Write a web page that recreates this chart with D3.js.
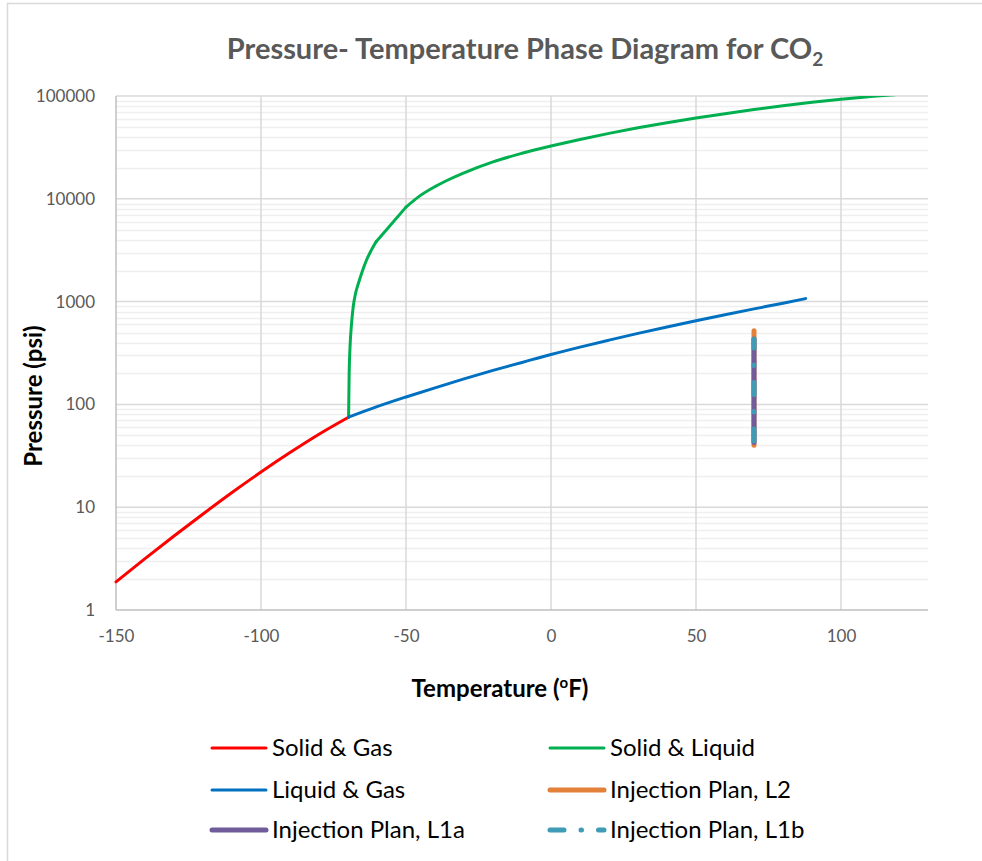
<!DOCTYPE html>
<html>
<head>
<meta charset="utf-8">
<script src="https://cdn.jsdelivr.net/npm/d3@7"></script>
<style>
  html, body { margin: 0; padding: 0; background: #ffffff; }
  svg { display: block; font-family: Lato, "Open Sans", sans-serif; }
</style>
</head>
<body>
<svg id="chart" width="982" height="861"></svg>
<script>
// Phase boundaries of CO2 (temperature in °F, pressure in psi)
const solidGasT = [-150, -140, -130, -120, -110, -100, -90, -80, -69.8];
const solidGasP = [1.88, 3.16, 5.24, 8.59, 13.9, 22.0, 34.0, 51.3, 75.1];

const solidLiquidT = [-69.8, -69.6, -69.3, -68.8, -68.2, -67.4, -66.4, -65.0, -63.6, -62.0, -60.3,
                      -50, -45, -40, -35, -30, -20, -10, 0, 10, 20, 30, 40, 50, 60, 70, 80, 90, 100, 110, 120];
const solidLiquidP = [75.1, 200, 363, 600, 891, 1200, 1507, 2000, 2540, 3150, 3830,
                      8300, 10800, 13150, 15500, 17900, 22900, 27700, 32600, 37800, 43300, 49000,
                      55000, 61000, 67300, 73800, 80500, 87100, 93100, 98600, 104000];
// indices where the melting curve changes character (straight run between them)
const solidLiquidBreaks = [10, 11];

const liquidGasT = [-69.8, -60, -50, -40, -30, -20, -10, 0, 10, 20, 30, 40, 50, 60, 70, 80, 87.8];
const liquidGasP = [75.1, 95, 118, 145, 177, 214, 256, 306, 361, 422, 491, 567, 652, 746, 850, 964, 1070];

// Injection plans, all at 70 °F
const injL2T = [70, 70];
const injL2P = [40, 520];
const injL1aT = [70, 70];
const injL1aP = [42.5, 432];
const injL1bT = [70, 70];
const injL1bP = [44, 432];

// Axis ticks
const xTicks = [-150, -100, -50, 0, 50, 100];
const yTicks = [1, 10, 100, 1000, 10000, 100000];

const svg = d3.select("#chart");

// Outer chart frame
svg.append("rect")
  .attr("x", 7.5).attr("y", 3.5)
  .attr("width", 1000).attr("height", 900)
  .attr("fill", "#fff").attr("stroke", "#d9d9d9").attr("stroke-width", 1.5);

const plot = { left: 116, right: 928, top: 96, bottom: 610 };

const x = d3.scaleLinear().domain([-150, 130]).range([plot.left, plot.right]);
const y = d3.scaleLog().domain([1, 100000]).range([plot.bottom, plot.top]);

// Minor horizontal gridlines (2..9 within each decade)
const minorVals = [];
for (let k = 0; k < 5; k++) for (let m = 2; m <= 9; m++) minorVals.push(m * Math.pow(10, k));

svg.append("g").selectAll("line").data(minorVals).join("line")
  .attr("x1", plot.left).attr("x2", plot.right)
  .attr("y1", d => Math.round(y(d)) + 0.5).attr("y2", d => Math.round(y(d)) + 0.5)
  .attr("stroke", "#efefef").attr("stroke-width", 1.5);

// Major gridlines
svg.append("g").selectAll("line").data(yTicks.slice(1)).join("line")
  .attr("x1", plot.left).attr("x2", plot.right)
  .attr("y1", d => y(d)).attr("y2", d => y(d))
  .attr("stroke", "#d9d9d9").attr("stroke-width", 1.5);

svg.append("g").selectAll("line").data(xTicks.slice(1)).join("line")
  .attr("x1", d => x(d)).attr("x2", d => x(d))
  .attr("y1", plot.top).attr("y2", plot.bottom)
  .attr("stroke", "#d9d9d9").attr("stroke-width", 1.5);

// Axes
const xAxis = d3.axisBottom(x).tickValues(xTicks).tickSize(0).tickPadding(20)
  .tickFormat(d => String(d));
const gx = svg.append("g").attr("transform", `translate(0,${plot.bottom})`).call(xAxis);
gx.select(".domain").attr("stroke", "#bfbfbf").attr("stroke-width", 1.5)
  .attr("d", `M${plot.left},0H${plot.right}`);
gx.selectAll("text").attr("fill", "#595959").attr("font-size", 17)
  .attr("font-family", "Lato, sans-serif");

const yAxis = d3.axisLeft(y).tickValues(yTicks).tickSize(0).tickPadding(21)
  .tickFormat(d => String(d));
const gy = svg.append("g").attr("transform", `translate(${plot.left},0)`).call(yAxis);
gy.select(".domain").attr("stroke", "#bfbfbf").attr("stroke-width", 1.5)
  .attr("d", `M0,${plot.top}V${plot.bottom}`);
gy.selectAll("text").attr("fill", "#595959").attr("font-size", 17)
  .attr("font-family", "Lato, sans-serif");

// Curves
svg.append("clipPath").attr("id", "plotClip").append("rect")
  .attr("x", plot.left - 4).attr("y", plot.top)
  .attr("width", plot.right - plot.left + 4).attr("height", plot.bottom - plot.top);

const line = d3.line().x(d => x(d[0])).y(d => y(d[1]));
const zip = (a, b) => a.map((v, i) => [v, b[i]]);

const series = [
  { name: "Solid & Gas", T: solidGasT, P: solidGasP, color: "#ff0000", w: 3, curve: d3.curveMonotoneX },
  { name: "Solid & Liquid", T: solidLiquidT, P: solidLiquidP, color: "#00b050", w: 3, curve: d3.curveMonotoneX, breaks: solidLiquidBreaks },
  { name: "Liquid & Gas", T: liquidGasT, P: liquidGasP, color: "#0070c0", w: 3, curve: d3.curveMonotoneX },
  { name: "Injection Plan, L2", T: injL2T, P: injL2P, color: "#e3803a", w: 5, curve: d3.curveLinear },
  { name: "Injection Plan, L1a", T: injL1aT, P: injL1aP, color: "#715c9b", w: 5, curve: d3.curveLinear },
  { name: "Injection Plan, L1b", T: injL1bT, P: injL1bP, color: "#3f9bb6", w: 5, curve: d3.curveLinear, dash: "12,17,0.5,17" }
];

const gLines = svg.append("g").attr("clip-path", "url(#plotClip)");
series.forEach(s => {
  const pts = zip(s.T, s.P);
  // split at break indices: smooth pieces joined by straight runs
  const cuts = [0, ...(s.breaks || []), pts.length - 1];
  for (let k = 0; k < cuts.length - 1; k++) {
    const piece = pts.slice(cuts[k], cuts[k + 1] + 1);
    gLines.append("path")
      .datum(piece)
      .attr("d", line.curve(piece.length > 2 ? s.curve : d3.curveLinear))
      .attr("fill", "none")
      .attr("stroke", s.color)
      .attr("stroke-width", s.w)
      .attr("stroke-linecap", "round")
      .attr("stroke-linejoin", "round")
      .attr("stroke-dasharray", s.dash || null);
  }
});

// Title
const title = svg.append("text")
  .attr("x", 525).attr("y", 59)
  .attr("text-anchor", "middle")
  .attr("font-size", 29).attr("font-weight", 700)
  .attr("fill", "#595959");
title.append("tspan").text("Pressure- Temperature Phase Diagram for CO");
title.append("tspan").attr("font-size", 19).attr("dy", 7).text("2");

// Axis titles
const xt = svg.append("text")
  .attr("x", 500).attr("y", 697)
  .attr("text-anchor", "middle")
  .attr("font-size", 24).attr("font-weight", 700).attr("fill", "#000");
xt.append("tspan").text("Temperature (");
xt.append("tspan").attr("font-size", 15).attr("dy", -9).text("o");
xt.append("tspan").attr("dy", 9).text("F)");

svg.append("text")
  .attr("transform", `translate(42,396) rotate(-90)`)
  .attr("text-anchor", "middle")
  .attr("font-size", 24).attr("font-weight", 700).attr("fill", "#000")
  .text("Pressure (psi)");

// Legend
const legendPos = [
  { lx: 210, ly: 748 }, { lx: 548, ly: 748 },
  { lx: 210, ly: 790 }, { lx: 548, ly: 790 },
  { lx: 210, ly: 830 }, { lx: 548, ly: 830 }
];
const gLeg = svg.append("g");
series.forEach((s, i) => {
  const p = legendPos[i];
  gLeg.append("line")
    .attr("x1", p.lx + 2).attr("x2", p.lx + 56)
    .attr("y1", p.ly).attr("y2", p.ly)
    .attr("stroke", s.color).attr("stroke-width", s.w)
    .attr("stroke-linecap", "round")
    .attr("stroke-dasharray", s.dash ? "14,17,0.5,17" : null);
  gLeg.append("text")
    .attr("x", p.lx + 62).attr("y", p.ly + 8)
    .attr("font-size", 24).attr("fill", "#000")
    .text(s.name);
});
</script>
</body>
</html>
